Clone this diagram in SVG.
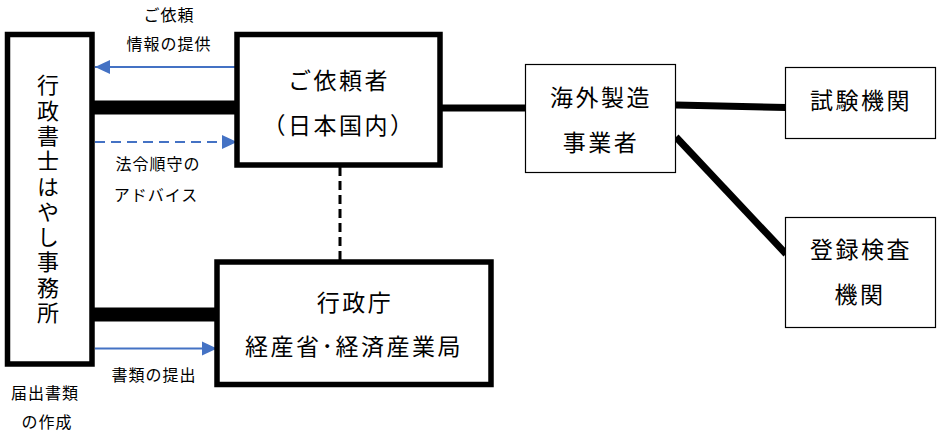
<svg xmlns="http://www.w3.org/2000/svg" width="939" height="436" viewBox="0 0 939 436">
<style>
text{font-family:"Noto Sans CJK JP","Noto Sans",sans-serif;fill:#000;text-anchor:middle}
.big{font-size:23px;letter-spacing:2.5px}
.sm{font-size:16px;letter-spacing:1px}
.vt{font-size:22px;writing-mode:vertical-rl;text-anchor:start;letter-spacing:3.3px}
.thick{fill:none;stroke:#000;stroke-width:5.5}
.thin{fill:#fff;stroke:#000;stroke-width:1.2}
.blue{stroke:#4472C4;stroke-width:2.2;fill:none}
</style>
<defs>
<marker id="ah" markerUnits="userSpaceOnUse" markerWidth="16" markerHeight="16" viewBox="0 0 16 16" refX="15" refY="8" orient="auto">
<path d="M0,1 L15,8 L0,15 Z" fill="#4472C4"/>
</marker>
</defs>
<g id="connectors">
<rect x="92" y="100.5" width="145" height="14" fill="#000"/>
<rect x="92" y="307.5" width="125" height="14" fill="#000"/>
<line class="blue" x1="237" y1="67" x2="95" y2="67" marker-end="url(#ah)"/>
<line class="blue" x1="95" y1="142" x2="237" y2="142" stroke-dasharray="10,6" marker-end="url(#ah)"/>
<line class="blue" x1="95" y1="348.5" x2="217" y2="348.5" marker-end="url(#ah)"/>
<line x1="340" y1="167" x2="340" y2="262" stroke="#000" stroke-width="3" stroke-dasharray="9,5"/>
<line x1="440" y1="108" x2="526" y2="108" stroke="#000" stroke-width="7"/>
<line x1="676" y1="105" x2="786" y2="107.5" stroke="#000" stroke-width="7"/>
<line x1="676" y1="137" x2="786" y2="254" stroke="#000" stroke-width="7"/>
</g>
<g id="gyosei-shoshi">
<rect class="thick" x="7.5" y="34.5" width="84.5" height="329.5" fill="#fff"/>
<text class="vt" x="48" y="74">行政書士はやし事務所</text>
</g>
<g id="irai-sha">
<rect class="thick" x="237" y="34.5" width="203" height="130.5" fill="#fff"/>
<text class="big" x="339" y="88.7">ご依頼者</text>
<text class="big" x="339" y="133.7">（日本国内）</text>
</g>
<g id="gyosei-cho">
<rect class="thick" x="217" y="262" width="274" height="122.5" fill="#fff"/>
<text class="big" x="355" y="310.7">行政庁</text>
<text class="big" x="354" y="354.7">経産省･経済産業局</text>
</g>
<g id="kaigai">
<rect class="thin" x="525.5" y="64.5" width="150" height="108"/>
<text class="big" x="601" y="105.7">海外製造</text>
<text class="big" x="601" y="150.7">事業者</text>
</g>
<g id="shiken">
<rect class="thin" x="785.5" y="67.5" width="150" height="71"/>
<text class="big" x="861" y="108.7">試験機関</text>
</g>
<g id="toroku">
<rect class="thin" x="785.5" y="217.5" width="150" height="110"/>
<text class="big" x="861" y="257.7">登録検査</text>
<text class="big" x="860" y="302.7">機関</text>
</g>
<g id="labels">
<text class="sm" x="169" y="21">ご依頼</text>
<text class="sm" x="169" y="50">情報の提供</text>
<text class="sm" x="158" y="170">法令順守の</text>
<text class="sm" x="156" y="201">アドバイス</text>
<text class="sm" x="154" y="381">書類の提出</text>
<text class="sm" x="45" y="399">届出書類</text>
<text class="sm" x="47" y="428">の作成</text>
</g>
</svg>
